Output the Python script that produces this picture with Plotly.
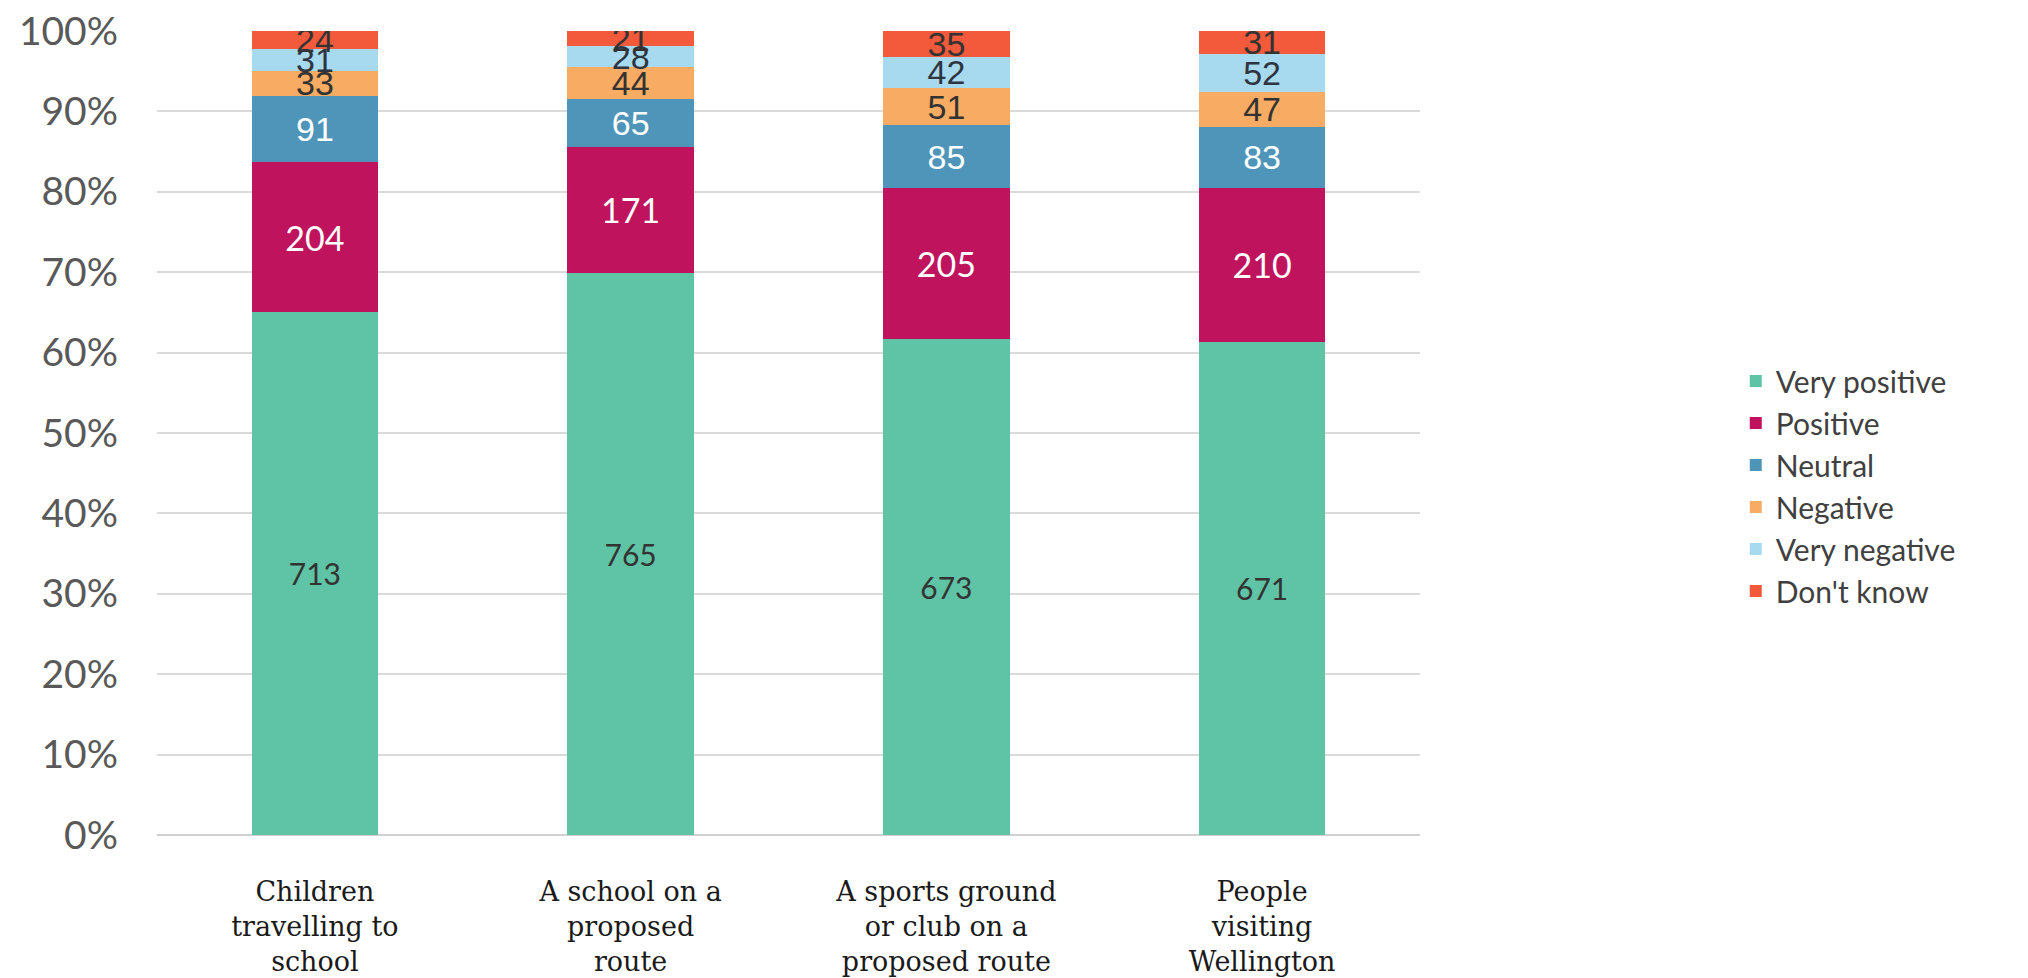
import plotly.graph_objects as go

categories = [
    "Children<br>travelling to<br>school",
    "A school on a<br>proposed<br>route",
    "A sports ground<br>or club on a<br>proposed route",
    "People<br>visiting<br>Wellington",
]
series_names = ["Very positive", "Positive", "Neutral", "Negative", "Very negative", "Don't know"]
very_positive = [713, 765, 673, 671]
positive = [204, 171, 205, 210]
neutral = [91, 65, 85, 83]
negative = [33, 44, 51, 47]
very_negative = [31, 28, 42, 52]
dont_know = [24, 21, 35, 31]
y_tick_values = [0, 10, 20, 30, 40, 50, 60, 70, 80, 90, 100]
y_tick_labels = ["0%", "10%", "20%", "30%", "40%", "50%", "60%", "70%", "80%", "90%", "100%"]

series_values = [very_positive, positive, neutral, negative, very_negative, dont_know]
colors = ["#5FC3A5", "#C0135E", "#4F95B9", "#F8AB62", "#A8DAEF", "#F3593B"]
text_colors = ["#333333", "#FFFFFF", "#FFFFFF", "#333333", "#2E3440", "#333333"]
text_fonts = ["Lato", "Lato", "Liberation Sans Narrow, Liberation Sans",
              "Liberation Sans Narrow, Liberation Sans",
              "Liberation Sans Narrow, Liberation Sans",
              "Liberation Sans Narrow, Liberation Sans"]
text_sizes = [30, 34, 34, 34, 34, 34]

fig = go.Figure()
for name, vals, col, tcol, tfont, tsize in zip(series_names, series_values, colors, text_colors, text_fonts, text_sizes):
    fig.add_trace(go.Bar(
        x=categories, y=vals, name=name,
        marker=dict(color=col, line=dict(width=0)),
        text=[str(v) for v in vals], texttemplate="%{text}",
        textposition="inside", insidetextanchor="middle",
        textangle=0, constraintext="none",
        textfont=dict(family=tfont, size=tsize, color=tcol),
        hoverinfo="skip",
    ))

fig.update_layout(
    barmode="stack", barnorm="percent", bargap=0.6,
    width=2028, height=978,
    margin=dict(l=157, r=608, t=31, b=143, autoexpand=False),
    paper_bgcolor="white", plot_bgcolor="white",
    showlegend=True,
    legend=dict(
        x=1.25, y=0.434, xanchor="left", yanchor="middle",
        traceorder="normal",
        font=dict(family="Lato", size=30, color="#404040"),
        itemwidth=30, tracegroupgap=0,
    ),
)
fig.update_yaxes(
    range=[0, 100], tickvals=y_tick_values, ticktext=y_tick_labels,
    showgrid=True, gridcolor="#DADADA", gridwidth=2,
    zeroline=True, zerolinecolor="#D0D0D0", zerolinewidth=2,
    ticks="", ticklabelstandoff=38, automargin=False,
    tickfont=dict(family="Lato", size=39, color="#595959"),
)
fig.update_xaxes(
    showgrid=False, ticks="", showline=False,
    ticklabelstandoff=38, automargin=False,
    tickfont=dict(family="DejaVu Serif", size=27, color="#1A1A1A"),
)

fig.write_html("out.html")
